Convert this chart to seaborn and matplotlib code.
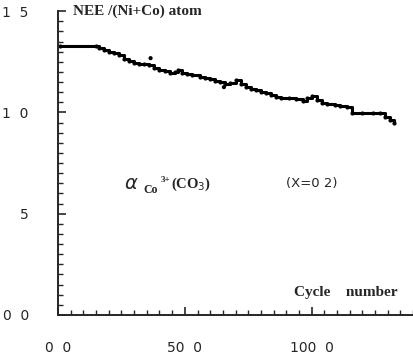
import numpy as np
import pandas as pd
import matplotlib
matplotlib.use("Agg")
import matplotlib.pyplot as plt
from matplotlib.ticker import MultipleLocator, FixedLocator
import seaborn as sns

# values
cycles = [1, 15, 16, 18, 20, 22, 24, 26, 28, 30, 32, 34, 36, 38, 40, 42, 44,
          46, 47.5, 49, 51, 53, 56, 58, 60, 62, 64, 66, 68, 70, 72, 74, 76,
          78, 80, 82, 84, 86, 88, 91, 94, 96.5, 98, 100, 102, 104, 106, 109,
          111, 114, 116, 120, 124, 127, 129, 131, 132.5]
nee = [1.33, 1.33, 1.318, 1.31, 1.30, 1.292, 1.285, 1.265, 1.255, 1.245,
       1.24, 1.238, 1.232, 1.22, 1.21, 1.203, 1.195, 1.20, 1.21, 1.197,
       1.19, 1.185, 1.175, 1.17, 1.164, 1.157, 1.15, 1.142, 1.145, 1.16,
       1.14, 1.128, 1.118, 1.11, 1.103, 1.095, 1.085, 1.075, 1.072, 1.07,
       1.065, 1.056, 1.07, 1.08, 1.06, 1.046, 1.042, 1.036, 1.03, 1.026,
       0.997, 0.997, 0.997, 0.995, 0.978, 0.962, 0.947]
stray_cycles = [36.5, 65.4]
stray_nee = [1.268, 1.125]

ytick_vals = [0.0, 0.5, 1.0, 1.5]
ytick_text = ["0  0", "5", "1  0", "1  5"]
xtick_vals = [0, 50, 100]
xtick_text = ["0  0", "50  0", "100  0"]

df = pd.DataFrame({"cycle": cycles, "nee": nee})

sns.set_style("ticks")
plt.rcParams["font.family"] = ["DejaVu Sans"]

fig = plt.figure(figsize=(4.14, 3.6), dpi=100)
ax = fig.add_axes([0.140, 0.125, 0.858, 0.844])

sns.lineplot(data=df, x="cycle", y="nee", ax=ax, color="black", lw=2.2,
             drawstyle="steps-post", marker="o", markersize=3,
             markeredgewidth=0)
sns.scatterplot(x=stray_cycles, y=stray_nee, ax=ax, color="black", s=9,
                edgecolor="none")

ax.set_xlim(0, 140)
ax.set_ylim(0, 1.5)
ax.set_xlabel("")
ax.set_ylabel("")
for side in ["top", "right"]:
    ax.spines[side].set_visible(False)
for side in ["left", "bottom"]:
    ax.spines[side].set_linewidth(1.4)

ax.yaxis.set_major_locator(FixedLocator(ytick_vals))
ax.set_yticklabels(ytick_text)
ax.yaxis.set_minor_locator(MultipleLocator(0.05))
ax.xaxis.set_major_locator(FixedLocator(xtick_vals))
ax.set_xticklabels(xtick_text)
ax.xaxis.set_minor_locator(MultipleLocator(5))

ax.tick_params(axis="both", which="major", direction="in", length=6,
               width=1.2, labelsize=10)
ax.tick_params(axis="both", which="minor", direction="in", length=3.5,
               width=1.0)
ax.tick_params(axis="y", which="major", pad=21)
ax.tick_params(axis="x", which="major", pad=19)

ax.text(6, 1.5, "NEE /(Ni+Co) atom", family="Liberation Serif",
        fontweight="bold", fontsize=11, va="center", ha="left")
ax.text(134, 0.11, "Cycle    number", family="Liberation Serif",
        fontweight="bold", fontsize=11, va="center", ha="right")
ax.text(26, 0.645, r"$\alpha$", fontsize=14, va="center", ha="left",
        family="Liberation Serif")
ax.text(33.5, 0.615, "Co", family="Liberation Serif",
        fontweight="bold", fontsize=8.5, va="center", ha="left")
ax.text(40.3, 0.665, "3+", family="Liberation Serif",
        fontweight="bold", fontsize=6.5, va="center", ha="left")
ax.text(44.5, 0.645, r"(CO$_3$)", family="Liberation Serif",
        fontweight="bold", fontsize=10.5, va="center", ha="left")
ax.text(90, 0.65, "(X=0 2)", fontsize=9.5, va="center", ha="left")

fig.savefig("out.png", dpi=100)
